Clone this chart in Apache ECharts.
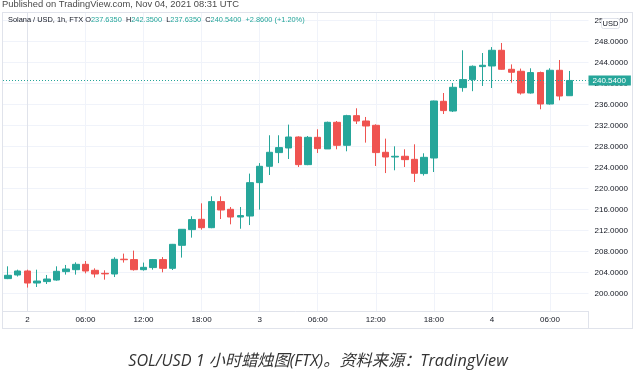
<!DOCTYPE html>
<html><head><meta charset="utf-8">
<script src="https://cdn.jsdelivr.net/npm/echarts@6/dist/echarts.min.js"></script>
<style>html,body{margin:0;padding:0;background:#fff}#c{width:633px;height:371px}</style>
</head><body><div id="c"></div>
<script>
// hour offset from Nov 2 00:00 UTC
const hours  = [-2,-1,0,1,2,3,4,5,6,7,8,9,10,11,12,13,14,15,16,17,18,19,20,21,22,23,24,25,26,27,28,29,30,31,32,33,34,35,36,37,38,39,40,41,42,43,44,45,46,47,48,49,50,51,52,53,54,55,56];
const opens  = [202.8,203.49,204.25,201.96,202.23,202.53,204.13,204.5,205.52,204.38,203.8,203.68,206.5,206.42,204.5,204.9,206.42,204.76,209.14,212.13,214.1,212.5,217.47,216.0,214.53,214.72,221.08,224.19,226.8,227.68,229.77,224.51,229.71,227.5,232.57,228.19,233.84,232.82,232.0,226.86,225.96,226.1,225.52,222.8,225.77,236.57,234.72,239.18,240.7,243.18,243.3,246.29,242.67,242.29,238.15,242.04,236.06,242.48,237.635];
const closes = [203.43,204.25,201.96,202.34,202.72,204.19,204.63,205.52,204.25,203.68,203.7,206.48,206.4,204.5,204.95,206.42,204.76,209.33,212.19,214.04,212.5,217.47,215.87,214.53,214.8,221.08,224.19,226.86,227.75,229.77,224.51,229.71,227.56,232.57,228.19,233.84,232.82,231.87,226.8,225.96,226.1,225.46,222.86,225.9,236.63,234.8,239.24,240.7,243.24,243.43,246.29,242.67,242.1,238.15,242.04,236.06,242.48,237.58,240.54];
const lows   = [202.7,203.2,201.09,201.2,201.77,202.4,203.56,203.56,203.8,203.0,202.6,203.1,205.85,204.32,204.32,204.5,204.0,204.44,206.8,210.6,212.13,212.4,214.15,213.14,212.3,213.0,215.94,222.53,224.8,225.58,224.06,224.4,226.72,227.5,227.43,227.05,232.25,228.7,224.25,222.9,223.43,224.06,221.2,222.42,223.1,234.15,234.53,238.4,238.5,239.49,239.1,242.6,240.13,237.85,238.04,235.05,235.94,236.76,237.635];
const highs  = [205.14,204.5,204.5,204.5,203.49,205.14,205.4,205.9,206.15,204.76,204.38,206.86,207.56,208.13,205.85,206.5,206.9,209.4,212.2,214.67,217.14,218.48,218.48,216.44,216.44,222.8,224.8,230.1,230.1,232.13,229.9,229.96,231.24,232.7,232.82,234.0,235.24,233.59,232.19,229.46,228.0,227.43,228.38,226.67,236.7,238.15,240.06,246.29,243.4,245.77,246.9,247.68,243.6,242.8,242.86,242.23,242.86,244.44,242.35];
const priceTicks = [200,204,208,212,216,220,224,228,232,236,240,244,248,252];
const timeTicks  = [0,6,12,18,24,30,36,42,48,54];
const timeLabels = ['2','06:00','12:00','18:00','3','06:00','12:00','18:00','4','06:00'];
const lastPrice = 240.54;

const UP = '#26a69a', DOWN = '#ef5350', GRID = '#f0f3fa', BORDER = '#e0e3eb', TXT = '#131722';
const FONT = 'Liberation Sans, Arial, sans-serif';
const candleData = hours.map((h, i) => [h, opens[i], closes[i], lows[i], highs[i]]);

const chart = echarts.init(document.getElementById('c'), null, {renderer: 'canvas'});
chart.setOption({
  animation: false,
  backgroundColor: '#fff',
  grid: {left: 3, right: 44.5, top: 13, bottom: 60},
  xAxis: {
    type: 'value', min: -2.521, max: 57.977,
    axisLine: {show: true, lineStyle: {color: BORDER}},
    axisTick: {show: false, customValues: timeTicks},
    splitLine: {show: true, lineStyle: {color: GRID, width: 1}},
    axisLabel: {
      customValues: timeTicks, margin: 5, fontSize: 8, color: TXT, fontFamily: FONT,
      formatter: v => timeLabels[timeTicks.indexOf(v)] || ''
    }
  },
  yAxis: {
    type: 'value', position: 'right', min: 196.63, max: 253.39, scale: true,
    axisLine: {show: true, lineStyle: {color: BORDER}},
    axisTick: {show: false, customValues: priceTicks},
    splitLine: {show: true, lineStyle: {color: GRID, width: 1}},
    axisLabel: {
      customValues: priceTicks, margin: 6, fontSize: 8, color: TXT, fontFamily: FONT,
      formatter: v => v.toFixed(4)
    }
  },
  series: [{
    type: 'candlestick',
    data: candleData,
    barWidth: 7,
    itemStyle: {color: UP, color0: DOWN, borderColor: UP, borderColor0: DOWN, borderWidth: 1},
    markLine: {
      silent: true, symbol: ['none', 'none'],
      lineStyle: {color: UP, type: [1, 2], width: 1},
      label: {
        show: true, position: 'end', distance: 0,
        formatter: lastPrice.toFixed(4),
        backgroundColor: UP, color: '#fff', fontSize: 8, fontFamily: FONT,
        padding: [1, 5, 1, 4]
      },
      data: [{yAxis: lastPrice}]
    }
  }],
  graphic: [
    {type: 'line', z: 50, shape: {x1: 2, y1: 12.5, x2: 633, y2: 12.5}, style: {stroke: BORDER, lineWidth: 1}},
    {type: 'line', z: 50, shape: {x1: 2.5, y1: 12.5, x2: 2.5, y2: 328.5}, style: {stroke: BORDER, lineWidth: 1}},
    {type: 'line', z: 50, shape: {x1: 632.5, y1: 12.5, x2: 632.5, y2: 328.5}, style: {stroke: BORDER, lineWidth: 1}},
    {type: 'line', z: 50, shape: {x1: 2, y1: 328.5, x2: 633, y2: 328.5}, style: {stroke: BORDER, lineWidth: 1}},
    {type: 'line', z: 50, shape: {x1: 588.5, y1: 311, x2: 588.5, y2: 328.5}, style: {stroke: BORDER, lineWidth: 1}},
    {type: 'text', z: 50, left: 2, top: 0,
      style: {text: 'Published on TradingView.com, Nov 04, 2021 08:31 UTC', fill: '#4a4a4a', fontSize: 9.4, fontFamily: FONT}},
    {type: 'text', z: 50, left: 8, top: 16.5,
      style: {
        text: '{d|Solana / USD, 1h, FTX O}{t|237.6350}{d|  H}{t|242.3500}{d|  L}{t|237.6350}{d|  C}{t|240.5400}{t|  +2.8600 (+1.20%)}',
        rich: {
          d: {fill: TXT, fontSize: 7.4, fontFamily: FONT},
          t: {fill: UP, fontSize: 7.4, fontFamily: FONT}
        }
      }},
    {type: 'rect', z: 60, shape: {x: 601.5, y: 18.5, width: 18, height: 10, r: 2}, style: {fill: '#fff', stroke: BORDER, lineWidth: 1}},
    {type: 'text', z: 61, x: 610.5, y: 23.5,
      style: {text: 'USD', fill: TXT, fontSize: 7.5, align: 'center', verticalAlign: 'middle', fontFamily: FONT}},
    {type: 'text', z: 50, x: 318, y: 361,
      style: {text: 'SOL/USD 1 小时蜡烛图(FTX)。资料来源：TradingView', fill: '#333', fontSize: 16.2, fontStyle: 'italic', align: 'center', verticalAlign: 'middle', fontFamily: 'Open Sans, Noto Sans CJK SC, sans-serif'}}
  ]
});
</script></body></html>
